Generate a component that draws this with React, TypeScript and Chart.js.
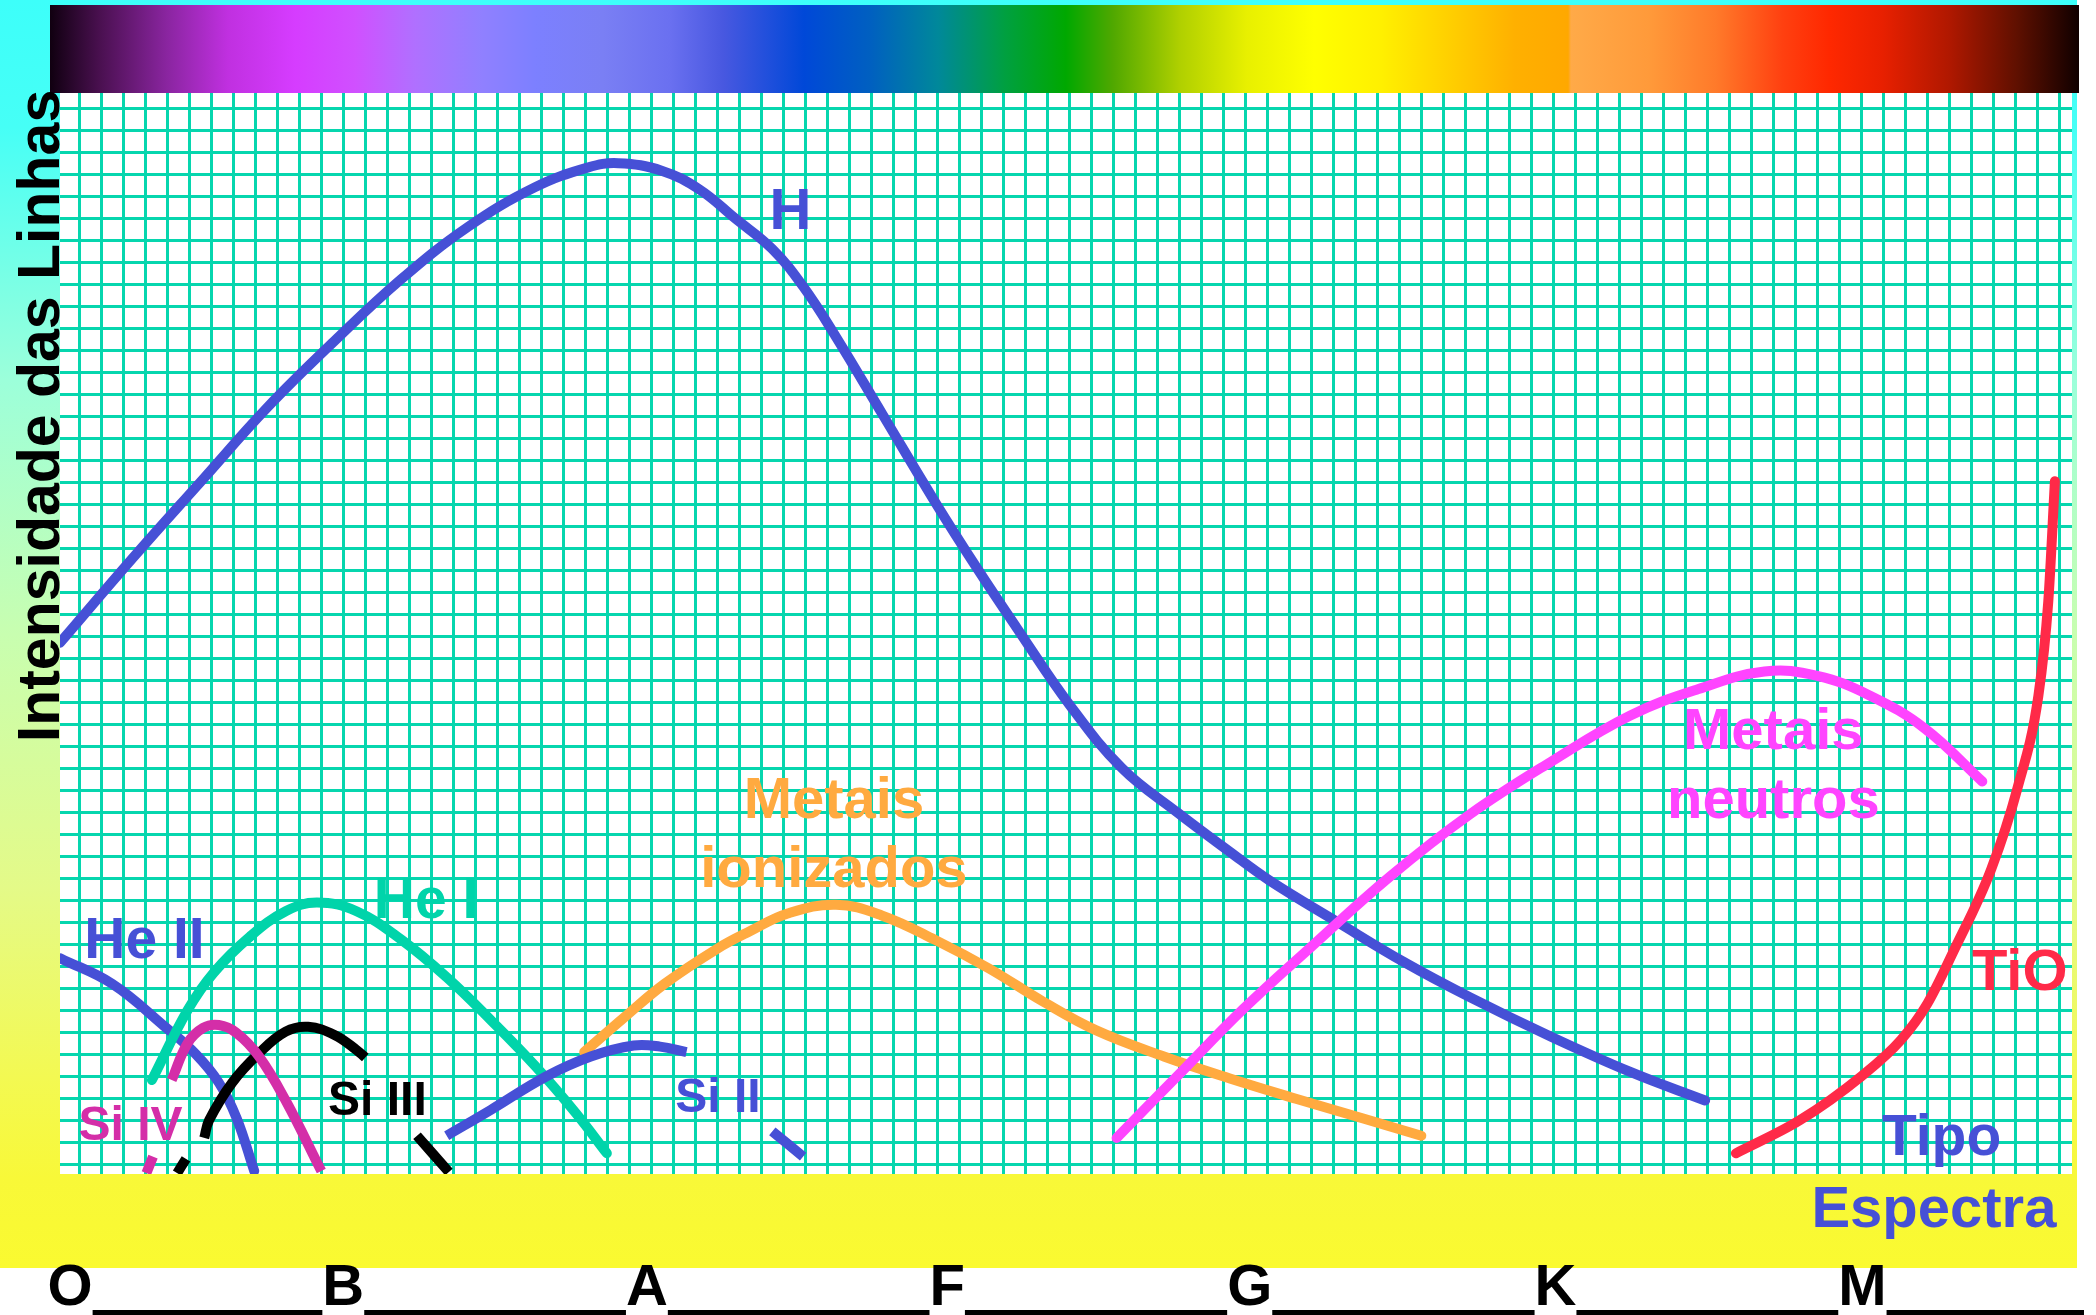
import { useEffect, useRef } from 'react';
import { Chart, registerables } from 'chart.js';

Chart.register(...registerables);

type Pt = [number, number | null];

// ---- Line-intensity curves (x: grid cell index, y: grid cell index from bottom) ----
const hydrogen: Pt[] = [
  [-0.88, 23.7], [2.47, 27.6], [5.5, 31.0], [8.55, 34.4], [11.58, 37.4], [14.6, 40.2],
  [17.66, 42.6], [20.7, 44.4], [23.1, 45.3], [24.5, 45.5], [26.5, 45.15], [28.2, 44.3],
  [29.8, 43.0], [31.5, 41.6], [32.9, 39.9], [34.4, 37.6], [36.5, 34.1], [38.9, 30.1],
  [40.8, 27.1], [42.6, 24.4], [45, 20.9], [47.4, 18.0], [49.9, 16.0], [52.3, 14.2],
  [54.1, 12.9], [57.2, 11.0], [60.2, 9.2], [63.2, 7.6], [66.9, 5.8], [70.5, 4.2], [73.9, 2.9],
];
const heliumII: Pt[] = [
  [-0.85, 9.36], [1.5, 8.2], [3.9, 6.25], [5.3, 5.0], [6.35, 3.7], [7.15, 2.1], [7.95, -0.3],
];
const heliumI: Pt[] = [
  [3.3, 3.83], [4.92, 7.0], [6.1, 8.7], [7.76, 10.35], [9.38, 11.5], [10.8, 11.9], [12.6, 11.5],
  [14.65, 10.2], [16.7, 8.5], [18.7, 6.56], [20.75, 4.44], [22.57, 2.33], [23.98, 0.5],
];
const siliconIV: Pt[] = [
  [3.05, -0.4], [3.35, 0.35], [3.7, null],
  [4.2, 3.83], [4.92, 5.5], [5.63, 6.2], [6.34, 6.33], [7.15, 5.97], [8.17, 4.9], [9.38, 2.9], [11.0, -0.3],
];
const siliconIII: Pt[] = [
  [4.45, -0.4], [4.85, 0.25], [5.2, null],
  [5.68, 1.2], [5.9, 2.0], [6.94, 3.7], [8.17, 5.05], [9.38, 6.03], [10.4, 6.25], [11.6, 5.88],
  [12.6, 5.2], [13.0, 4.85], [14.0, null],
  [15.35, 1.3], [16.8, -0.35],
];
const siliconII: Pt[] = [
  [16.7, 1.3], [18.7, 2.47], [21.2, 3.98], [23.25, 4.9], [25.2, 5.4], [26.4, 5.35], [27.6, 5.1],
  [29.5, null],
  [31.5, 1.5], [32.9, 0.35],
];
const ionizedMetals: Pt[] = [
  [22.95, 5.1], [24.8, 6.7], [26.6, 8.2], [29, 9.8], [30.5, 10.6], [32.2, 11.4], [34.4, 11.8],
  [36.5, 11.3], [38.9, 10.2], [41.35, 8.9], [43.8, 7.4], [46.2, 6.1], [49.3, 4.9], [52.3, 3.9],
  [55.3, 2.98], [58.4, 2.07], [61.0, 1.3],
];
const neutralMetals: Pt[] = [
  [47.15, 1.2], [49.9, 4.0], [52.9, 7.05], [55.9, 9.8], [59.6, 13.1], [63.2, 15.9], [66.9, 18.3],
  [70.5, 20.4], [73.6, 21.6], [76.6, 22.4], [79.0, 22.2], [81.4, 21.3], [83.9, 19.8], [86.5, 17.4],
];
const titaniumOxide: Pt[] = [
  [75.3, 0.5], [78.2, 2.0], [81.0, 4.0], [82.8, 5.65], [84.0, 7.3], [85.2, 9.7], [86.9, 13.4],
  [88.1, 17.1], [89.05, 21.3], [89.5, 25.6], [89.8, 31.05],
];

// ---- Axis / grid ----
const X_MIN = -0.877;
const X_MAX = 90.577;
const Y_MIN = -0.44;
const Y_MAX = 48.69;
const xGridValues = Array.from({ length: 91 }, (_, i) => i);
const yGridValues = Array.from({ length: 49 }, (_, i) => i);

const spectralTypes = ['O', 'B', 'A', 'F', 'G', 'K', 'M'];
const spectralTypePos = [-0.42, 12.0, 25.8, 39.45, 53.2, 67.1, 81.05];

const yTitle = 'Intensidade das Linhas';

// spectrum colour bar stops (fraction, colour)
const spectrumStopPos = [
  0, 0.0246, 0.0577, 0.0877, 0.1207, 0.1503, 0.1799, 0.2129, 0.2395, 0.2725, 0.3056, 0.3317,
  0.3716, 0.4046, 0.4377, 0.4707, 0.5007, 0.5239, 0.5569, 0.5899, 0.623, 0.656, 0.689, 0.722,
  0.7482, 0.7496, 0.788, 0.821, 0.854, 0.877, 0.903, 0.936, 0.969, 1,
];
const spectrumStopColor = [
  '#100010', '#4a1050', '#8a25a0', '#c030e0', '#d63cff', '#d050ff', '#b070ff', '#9080ff',
  '#7c80ff', '#7a7ff4', '#6a70f0', '#4858e0', '#0048d8', '#0060c0', '#00889a', '#00a040',
  '#00a800', '#50a800', '#b0d000', '#e8f000', '#ffff00', '#fff000', '#ffd000', '#ffb000',
  '#ffa800', '#ffaa48', '#ff9a3a', '#ff7a2a', '#ff4010', '#ff2800', '#e82000', '#b01800',
  '#601000', '#100000',
];

const BLUE = '#4650d6';
const TEAL = '#00d4aa';
const PINK = '#d42ea8';
const ORANGE = '#ffaa40';
const MAGENTA = '#ff44ff';
const RED = '#ff2a48';
const GRID = '#06d6ae';
const FONT = '"Liberation Sans", Arial, Helvetica, sans-serif';

const annotations = [
  { text: 'H', x: 32.33, y: 42.5, color: BLUE, size: 58 },
  { text: 'He II', x: 2.96, y: 9.36, color: BLUE, size: 57 },
  { text: 'He I', x: 15.76, y: 11.18, color: TEAL, size: 57 },
  { text: 'Si IV', x: 2.33, y: 1.1, color: PINK, size: 48 },
  { text: 'Si III', x: 13.55, y: 2.24, color: '#000000', size: 48 },
  { text: 'Si II', x: 29.03, y: 2.39, color: BLUE, size: 48 },
  { text: 'Metais', x: 34.3, y: 15.74, color: ORANGE, size: 58 },
  { text: 'ionizados', x: 34.3, y: 12.6, color: ORANGE, size: 58 },
  { text: 'Metais', x: 77.0, y: 18.88, color: MAGENTA, size: 58 },
  { text: 'neutros', x: 77.0, y: 15.74, color: MAGENTA, size: 58 },
  { text: 'TiO', x: 88.2, y: 7.92, color: RED, size: 58 },
  { text: 'Tipo', x: 84.65, y: 0.42, color: BLUE, size: 57 },
  { text: 'Espectra', x: 84.3, y: -2.84, color: BLUE, size: 58 },
];

const W = 2096;
const H = 1315;

function makeDataset(
  label: string,
  pts: Pt[],
  color: string,
  cap: 'round' | 'butt',
  monotone = false,
  width = 10,
) {
  return {
    label,
    data: pts.map(([x, y]) => ({ x, y })),
    borderColor: color,
    backgroundColor: color,
    borderWidth: width,
    borderCapStyle: cap,
    borderJoinStyle: 'round',
    cubicInterpolationMode: monotone ? 'monotone' : 'default',
    tension: 0.4,
    pointRadius: 0,
    pointHoverRadius: 0,
    fill: false,
    spanGaps: false,
    clip: 0,
  };
}

const backgroundPlugin = {
  id: 'bgDecor',
  beforeDraw(chart: any) {
    const ctx = chart.ctx as CanvasRenderingContext2D;
    const area = chart.chartArea;
    ctx.save();
    ctx.fillStyle = '#ffffff';
    ctx.fillRect(0, 0, W, H);
    // panel gradient
    const g = ctx.createLinearGradient(0, 0, 0, 1268);
    g.addColorStop(0, '#3dfffa');
    g.addColorStop(0.1, '#46fff6');
    g.addColorStop(0.3, '#9cffda');
    g.addColorStop(0.5, '#c8feb0');
    g.addColorStop(0.7, '#e4fa88');
    g.addColorStop(0.85, '#f3f952');
    g.addColorStop(0.93, '#f8f838');
    g.addColorStop(1, '#fafa30');
    ctx.fillStyle = g;
    ctx.fillRect(0, 0, 2077, 1268);
    // spectrum bar
    const sg = ctx.createLinearGradient(50, 0, 2079, 0);
    spectrumStopPos.forEach((p, i) => sg.addColorStop(p, spectrumStopColor[i]));
    ctx.fillStyle = sg;
    ctx.fillRect(50, 5, 2029, area.top - 5);
    // white plotting area
    ctx.fillStyle = '#ffffff';
    ctx.fillRect(area.left, area.top, area.right - area.left, area.bottom - area.top);
    ctx.restore();
  },
};

const textPlugin = {
  id: 'textDecor',
  afterDraw(chart: any) {
    const ctx = chart.ctx as CanvasRenderingContext2D;
    const xs = chart.scales.x;
    const ys = chart.scales.y;
    const area = chart.chartArea;
    ctx.save();
    ctx.textAlign = 'center';
    ctx.textBaseline = 'alphabetic';
    annotations.forEach((a) => {
      ctx.font = `bold ${a.size}px ${FONT}`;
      ctx.fillStyle = a.color;
      ctx.fillText(a.text, xs.getPixelForValue(a.x), ys.getPixelForValue(a.y));
    });
    // y-axis title
    ctx.save();
    ctx.font = `bold 59px ${FONT}`;
    ctx.fillStyle = '#000000';
    ctx.translate(area.left - 1, 416);
    ctx.rotate(-Math.PI / 2);
    ctx.fillText(yTitle, 0, 0);
    ctx.restore();
    // spectral type letters with underline
    ctx.font = `bold 58px ${FONT}`;
    ctx.fillStyle = '#000000';
    const centers = spectralTypePos.map((v) => xs.getPixelForValue(v));
    const widths = spectralTypes.map((t) => ctx.measureText(t).width);
    spectralTypes.forEach((t, i) => {
      ctx.fillText(t, centers[i], 1305);
      const start = centers[i] + widths[i] / 2;
      const end = i + 1 < spectralTypes.length ? centers[i + 1] - widths[i + 1] / 2 : 2084;
      ctx.fillRect(start, 1310, end - start, 5);
    });
    ctx.restore();
  },
};

export default function App() {
  const ref = useRef<HTMLCanvasElement | null>(null);
  useEffect(() => {
    const canvas = ref.current;
    if (!canvas) return;
    const chart = new Chart(canvas, {
      type: 'line',
      data: {
        datasets: [
          makeDataset('Si IV', siliconIV, PINK, 'butt'),
          makeDataset('Metais neutros', neutralMetals, MAGENTA, 'round'),
          makeDataset('Si III', siliconIII, '#000000', 'butt'),
          makeDataset('Si II', siliconII, BLUE, 'butt'),
          makeDataset('He I', heliumI, TEAL, 'round'),
          makeDataset('He II', heliumII, BLUE, 'round'),
          makeDataset('Metais ionizados', ionizedMetals, ORANGE, 'round'),
          makeDataset('H', hydrogen, BLUE, 'round'),
          makeDataset('TiO', titaniumOxide, RED, 'round', true),
        ] as any,
      },
      options: {
        responsive: false,
        animation: false,
        devicePixelRatio: 1,
        events: [],
        layout: { padding: { left: 60, top: 93, right: W - 2072, bottom: H - 1174 } },
        plugins: {
          legend: { display: false },
          tooltip: { enabled: false },
          title: { display: false },
        },
        scales: {
          x: {
            type: 'linear',
            min: X_MIN,
            max: X_MAX,
            afterBuildTicks: (s: any) => {
              s.ticks = xGridValues.map((v) => ({ value: v }));
            },
            ticks: { display: false },
            grid: { color: GRID, lineWidth: 3, drawTicks: false },
            border: { display: false },
          },
          y: {
            type: 'linear',
            min: Y_MIN,
            max: Y_MAX,
            afterBuildTicks: (s: any) => {
              s.ticks = yGridValues.map((v) => ({ value: v }));
            },
            ticks: { display: false },
            grid: { color: GRID, lineWidth: 3, drawTicks: false },
            border: { display: false },
          },
        },
      } as any,
      plugins: [backgroundPlugin, textPlugin],
    });
    return () => chart.destroy();
  }, []);
  return (
    <div style={{ position: 'absolute', left: 0, top: 0, width: W, height: H }}>
      <canvas ref={ref} width={W} height={H} style={{ display: 'block', width: W, height: H }} />
    </div>
  );
}
